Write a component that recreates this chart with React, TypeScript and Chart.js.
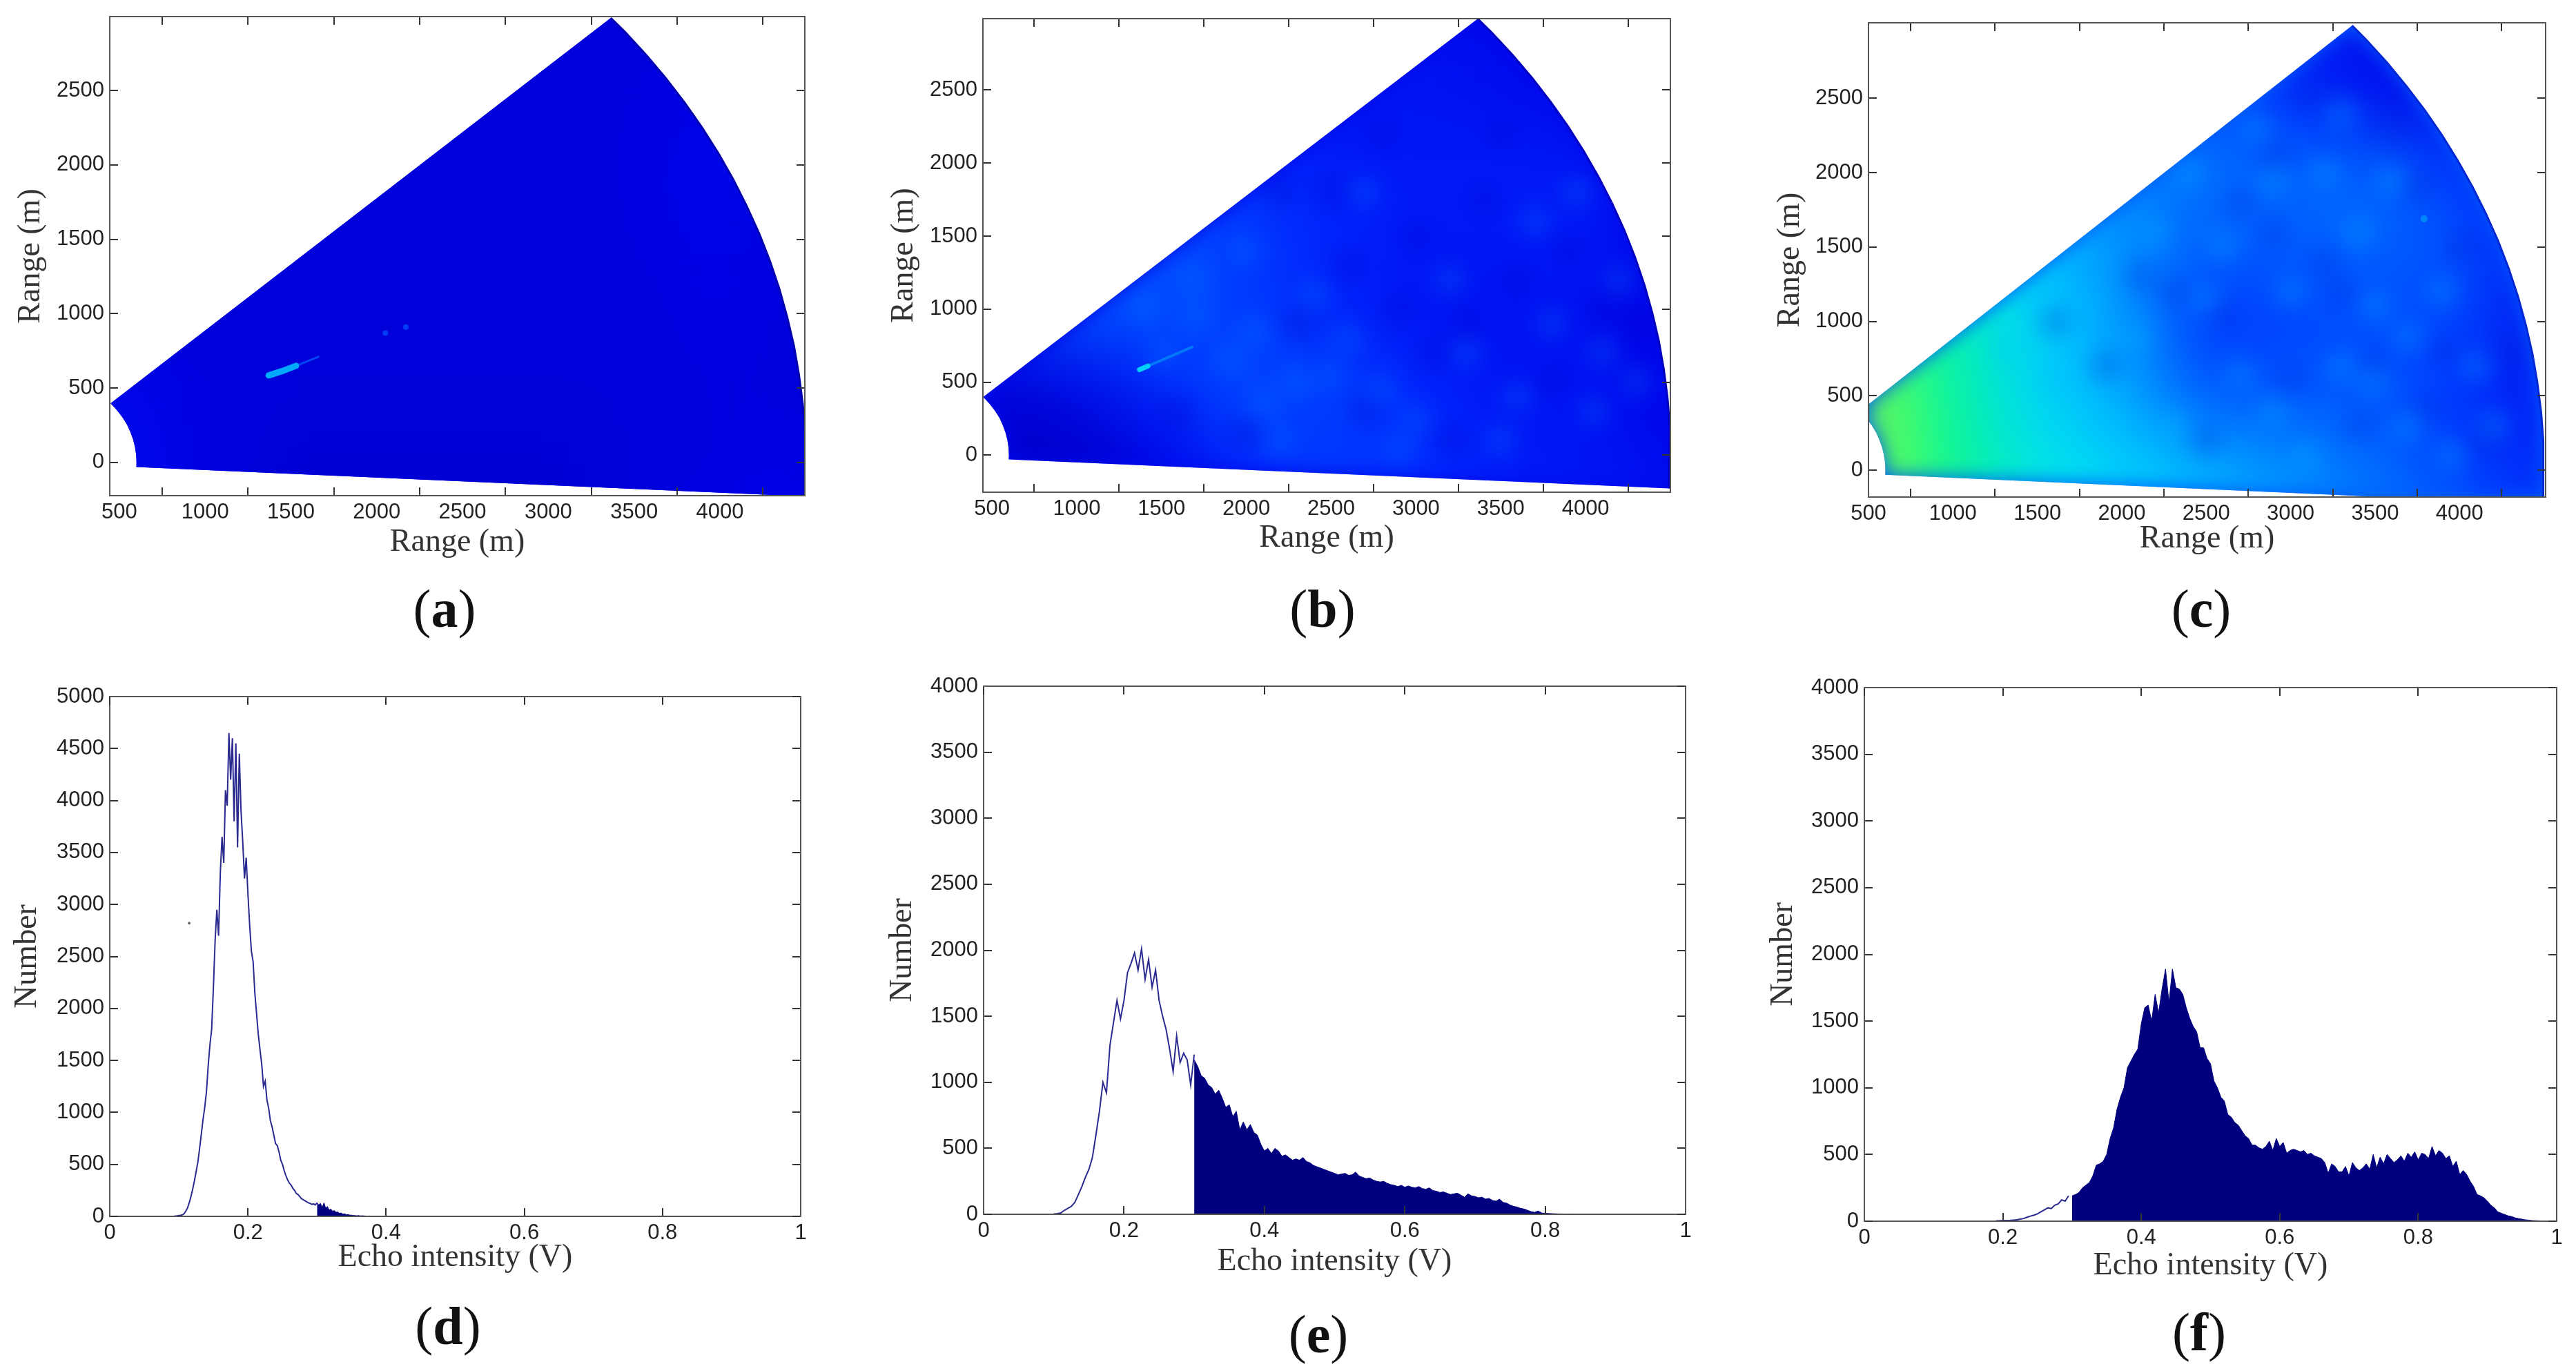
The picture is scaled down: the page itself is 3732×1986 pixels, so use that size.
import React, { useEffect, useRef } from "react";
import { Chart, registerables } from "chart.js";

Chart.register(...registerables);

// ---------- radar panels: sector outline and intensity grids ----------
const outerArcX = [4494, 4496, 4483, 4461, 4432, 4393, 4347, 4292, 4229, 4157, 4078, 3991, 3897, 3795, 3686, 3570, 3447, 3364];
const outerArcY = [-228, 196, 392, 587, 781, 974, 1165, 1353, 1539, 1722, 1902, 2078, 2250, 2418, 2581, 2740, 2893, 2988];
const innerArcX = [449, 487, 520, 545, 564, 580, 591, 598, 600, 599, 4494];
const innerArcY = [398, 350, 300, 254, 205, 155, 104, 52, 0, -30, -228];
const sectorX = [...outerArcX, ...innerArcX];
const sectorY = [...outerArcY, ...innerArcY];

const heatXs = [500, 1000, 1500, 2000, 2500, 3000, 3500, 4000, 4500];
const heatYs = [3000, 2500, 2000, 1500, 1000, 500, 0, -500];

const heatA = [
  [0.08, 0.08, 0.08, 0.08, 0.08, 0.08, 0.08, 0.08, 0.08],
  [0.08, 0.08, 0.08, 0.08, 0.08, 0.08, 0.09, 0.1, 0.09],
  [0.08, 0.08, 0.08, 0.08, 0.08, 0.08, 0.09, 0.12, 0.08],
  [0.08, 0.08, 0.08, 0.08, 0.08, 0.08, 0.09, 0.11, 0.08],
  [0.08, 0.08, 0.08, 0.08, 0.08, 0.08, 0.08, 0.1, 0.08],
  [0.12, 0.09, 0.08, 0.08, 0.08, 0.08, 0.08, 0.09, 0.08],
  [0.13, 0.09, 0.07, 0.07, 0.07, 0.07, 0.08, 0.09, 0.1],
  [0.13, 0.09, 0.07, 0.07, 0.07, 0.07, 0.08, 0.1, 0.11],
];

const heatB = [
  [0.14, 0.14, 0.14, 0.14, 0.14, 0.14, 0.12, 0.1, 0.09],
  [0.14, 0.14, 0.14, 0.14, 0.14, 0.15, 0.13, 0.11, 0.09],
  [0.14, 0.22, 0.23, 0.21, 0.17, 0.16, 0.17, 0.16, 0.1],
  [0.19, 0.26, 0.27, 0.23, 0.19, 0.16, 0.16, 0.17, 0.1],
  [0.24, 0.28, 0.26, 0.23, 0.18, 0.15, 0.14, 0.14, 0.09],
  [0.08, 0.12, 0.21, 0.26, 0.24, 0.19, 0.15, 0.15, 0.1],
  [0.05, 0.05, 0.11, 0.21, 0.23, 0.21, 0.17, 0.15, 0.13],
  [0.05, 0.05, 0.11, 0.19, 0.22, 0.21, 0.17, 0.16, 0.14],
];

const heatC = [
  [0.45, 0.4, 0.34, 0.27, 0.22, 0.14, 0.1, 0.08, 0.08],
  [0.45, 0.4, 0.34, 0.32, 0.28, 0.22, 0.15, 0.11, 0.09],
  [0.62, 0.56, 0.46, 0.36, 0.32, 0.3, 0.31, 0.23, 0.12],
  [0.68, 0.6, 0.47, 0.37, 0.29, 0.29, 0.3, 0.27, 0.15],
  [0.82, 0.66, 0.5, 0.39, 0.22, 0.24, 0.26, 0.25, 0.13],
  [0.9, 0.7, 0.51, 0.42, 0.28, 0.28, 0.28, 0.22, 0.14],
  [0.9, 0.72, 0.57, 0.51, 0.44, 0.37, 0.31, 0.25, 0.17],
  [0.9, 0.74, 0.6, 0.53, 0.47, 0.4, 0.35, 0.3, 0.2],
];

const streakAX = [1370, 1450, 1530];
const streakAY = [585, 615, 650];
const tailAX = [1530, 1660];
const tailAY = [650, 710];
const dotsAX = [2050, 2170];
const dotsAY = [870, 910];
const streakBX = [1370, 1420];
const streakBY = [585, 610];
const tailBX = [1420, 1680];
const tailBY = [610, 740];
const spotCX = [3790];
const spotCY = [1690];

const brightBX = [1400, 1700, 1900, 2100, 2300, 2500, 2800, 3000, 2000, 1700, 2400, 2600, 3300, 3700, 3950, 4200, 3600, 3800, 4050, 2200, 2900, 3200, 2700, 1500, 2050, 3500, 4100, 4300];
const brightBY = [1000, 950, 650, 350, 500, 550, 450, 250, 1400, 1200, 1100, 800, 700, 1600, 1800, 1200, 400, 900, 300, 100, 50, 1200, 1800, 700, 850, 100, 700, 500];
const darkBX = [2600, 2900, 3300, 3600, 3000, 3400, 2300, 2700, 3100, 3800, 4100, 1600, 2000, 2500, 3500, 3900, 2200, 4300, 3200, 2800];
const darkBY = [1300, 1000, 900, 1200, 1500, 1750, 900, 300, 700, 500, 1000, 300, 150, 1800, 2200, 1400, 1800, 900, 100, 2200];

const brightCX = [2100, 2900, 3200, 3600, 1800, 2200, 2600, 3400, 3900, 4100, 3300, 2900, 3700, 2300, 1600, 1300, 3000, 3500, 2800, 3300, 2400, 3700, 4200, 2500, 1900, 3100, 2000, 2700, 3950, 1500, 3500];
const brightCY = [900, 1950, 2000, 1950, 1100, 1600, 1500, 1600, 1200, 700, 700, 400, 300, 300, 600, 800, 1200, 1100, 2300, 2400, 2000, 900, 300, 1150, 300, 100, 50, 650, 100, 1100, 600];
const darkCX = [3200, 3900, 2700, 3300, 4000, 3500, 2300, 3000, 3600, 3100, 4300, 2900, 2100, 3800, 1900, 2500, 1600, 3400, 4150, 2600, 3750, 2900];
const darkCY = [1400, 800, 1800, 1200, 1500, 700, 1200, 600, 2300, 2500, 800, 1600, 1300, 400, 700, 200, 1000, 300, 200, 1050, 1900, 2100];

const radarXTicks = [500, 1000, 1500, 2000, 2500, 3000, 3500, 4000];
const radarYTicks = [0, 500, 1000, 1500, 2000, 2500];

// ---------- histogram panels ----------
const histXTicks = [0, 0.2, 0.4, 0.6, 0.8, 1];
const histDYTicks = [0, 500, 1000, 1500, 2000, 2500, 3000, 3500, 4000, 4500, 5000];
const histEYTicks = [0, 500, 1000, 1500, 2000, 2500, 3000, 3500, 4000];

// d: from 0.09 in steps of 0.0025
const histDLine = [
  0, 0, 3, 5, 8, 10, 15, 25, 50, 80, 130, 190,
  260, 340, 430, 520, 650, 790, 930, 1050, 1200, 1450, 1650, 1800,
  2200, 2650, 2950, 2700, 3300, 3650, 3400, 4100, 3950, 4650, 4200, 4600,
  3800, 4550, 3550, 4450, 3900, 3600, 3250, 3450, 3100, 2800, 2550, 2450,
  2150, 1950, 1750, 1600, 1460, 1250, 1300, 1120, 1040, 920, 860, 780,
  700, 680, 620, 540, 500, 440, 390, 350, 320, 300, 270, 250,
  220, 210, 190, 170, 160, 150, 140, 130, 125, 115, 120, 110, 130,
];
// d: from 0.30 in steps of 0.0025
const histDFill = [
  130, 110, 125, 85, 130, 80, 95, 60, 70, 50, 55, 40, 42, 30, 32, 22,
  25, 15, 18, 12, 12, 8, 8, 6, 8, 5, 6, 5, 4, 3, 4, 3, 3, 2, 2, 2,
];

// e: from 0.10 in steps of 0.005
const histELine = [
  2, 5, 10, 30, 45, 60, 90, 150, 210, 280, 340, 430, 600, 780, 1000, 920, 1280, 1450, 1620, 1480,
  1620, 1830, 1900, 1980, 1850, 2010, 1780, 1930, 1720, 1850, 1620, 1500, 1400, 1250, 1080, 1350, 1150, 1220, 1170, 980, 1210,
];
// e: from 0.30 in steps of 0.005
const histEFill = [
  1170, 1120, 1050, 1030, 980, 960, 910, 940, 880, 810, 830, 740, 780, 640, 700, 640, 680, 620, 600, 530,
  480, 500, 460, 500, 480, 440, 450, 430, 410, 420, 410, 430, 400, 390, 370, 360, 350, 340, 330, 320,
  310, 300, 305, 310, 295, 300, 320, 290, 280, 270, 275, 260, 250, 245, 250, 235, 225, 220, 210, 220,
  205, 215, 205, 200, 210, 195, 190, 200, 180, 175, 165, 170, 160, 150, 155, 160, 145, 130, 155, 140,
  135, 125, 130, 115, 120, 105, 100, 115, 90, 85, 70, 60, 55, 45, 40, 30, 20, 15, 25, 10,
  8, 6, 5, 4, 3, 3, 2, 3, 2, 2, 1, 2, 1, 1, 1, 2, 1, 1, 1, 1, 0,
];

// f: from 0.19 in steps of 0.005
const histFLine = [
  2, 4, 5, 5, 6, 8, 10, 15, 20, 30, 38, 45, 55, 70, 85, 100, 95, 120, 130, 160, 150, 190,
];
// f: from 0.30 in steps of 0.005
const histFFill = [
  190, 200, 215, 250, 270, 290, 340, 420, 430, 450, 500, 620, 700, 840, 930, 1000, 1150, 1200, 1250, 1290,
  1480, 1600, 1620, 1500, 1700, 1560, 1740, 1890, 1640, 1890, 1750, 1740, 1700, 1600, 1520, 1460, 1420, 1300, 1300, 1220,
  1180, 1050, 1000, 930, 900, 800, 780, 740, 720, 680, 640, 620, 570, 570, 550, 540, 560, 600, 530, 620,
  560, 590, 510, 530, 540, 530, 520, 530, 500, 510, 490, 480, 470, 440, 360, 430, 410, 370, 370, 410,
  340, 440, 400, 380, 400, 430, 390, 500, 400, 480, 430, 500, 470, 440, 460, 490, 450, 510, 480, 520,
  460, 510, 500, 470, 560, 490, 530, 510, 470, 490, 410, 450, 350, 380, 350, 300, 260, 200, 190, 175,
  150, 120, 100, 70, 60, 50, 40, 35, 25, 20, 15, 10, 8, 5, 4, 3, 2, 2, 1, 1, 0,
];
const strayDX = [0.115];
const strayDY = [2820];

// ---------- helpers ----------
const zip = (xs: number[], ys: number[]) => xs.map((x, i) => ({ x, y: ys[i] }));
const series = (start: number, step: number, ys: number[]) => ys.map((y, i) => ({ x: start + i * step, y }));

const jetStops: [number, number, number, number][] = [
  [0, 0, 0, 170], [0.1, 0, 0, 230], [0.2, 0, 40, 255], [0.3, 0, 100, 255], [0.4, 0, 160, 255],
  [0.5, 0, 210, 255], [0.6, 0, 240, 220], [0.7, 0, 245, 160], [0.8, 40, 255, 100], [1, 200, 255, 40],
];
const jet = (v: number) => {
  for (let i = 1; i < jetStops.length; i++) {
    const a = jetStops[i - 1], b = jetStops[i];
    if (v <= b[0]) {
      const t = (v - a[0]) / (b[0] - a[0]);
      return `rgb(${a[1] + (b[1] - a[1]) * t},${a[2] + (b[2] - a[2]) * t},${a[3] + (b[3] - a[3]) * t})`;
    }
  }
  return "rgb(200,255,40)";
};

type Box = { L: number; R: number; T: number; B: number; yTitle: number; xTitle: number; x: [number, number]; y: [number, number] };

const axisColor = "#555";
const scaleFor = (pos: string, min: number, max: number, vals: number[], main: boolean, title: string, gutter: number) => ({
  type: "linear",
  position: pos,
  min,
  max,
  offset: false,
  border: { display: true, color: axisColor, width: 2, z: 1 },
  grid: { drawOnChartArea: false, drawTicks: true, tickLength: -12, color: "#333", lineWidth: 2, z: 1 },
  ticks: {
    display: main,
    z: 1,
    autoSkip: false,
    maxRotation: 0,
    minRotation: 0,
    padding: pos === "bottom" ? 18 : 20,
    color: "#222",
    font: { family: "'Liberation Sans'", size: 31 },
    callback: (v: number) => String(v),
  },
  title: { display: main, text: title, color: "#333", padding: 0, font: { family: "'Liberation Serif'", size: 46 } },
  afterBuildTicks: (s: any) => {
    s.ticks = vals.map((value) => ({ value }));
  },
  afterFit: (s: any) => {
    if (pos === "left" || pos === "right") s.width = gutter;
    else s.height = gutter;
    s.paddingLeft = s.paddingRight = s.paddingTop = s.paddingBottom = 0;
  },
});

const buildScales = (b: Box, xt: number[], yt: number[], xTitle: string, yTitle: string) => ({
  x: scaleFor("bottom", b.x[0], b.x[1], xt, true, xTitle, b.xTitle + 28 - b.B),
  y: scaleFor("left", b.y[0], b.y[1], yt, true, yTitle, b.L - (b.yTitle - 28)),
  x2: scaleFor("top", b.x[0], b.x[1], xt, false, "", 0),
  y2: scaleFor("right", b.y[0], b.y[1], yt, false, "", 0),
});

const frameStyle = (b: Box): React.CSSProperties => ({
  position: "absolute",
  left: b.yTitle - 28,
  top: b.T - 20,
  width: b.R - (b.yTitle - 28) + 30,
  height: b.xTitle + 28 - (b.T - 20),
  filter: "blur(0.7px)",
});

// Softens what has been drawn so far, inside the sector only.
const softenPlugin = (blur: number, grainIndex: number, base: string) => ({
  id: "soften",
  afterDatasetDraw(chart: any, args: any) {
    if (args.index !== 0 && args.index !== grainIndex) return;
    const amount = args.index === 0 ? blur : 14;
    const { ctx, canvas, chartArea: a, scales } = chart;
    const off = document.createElement("canvas");
    off.width = canvas.width;
    off.height = canvas.height;
    off.getContext("2d")!.drawImage(canvas, 0, 0);
    ctx.save();
    ctx.clearRect(0, 0, canvas.width, canvas.height);
    ctx.beginPath();
    ctx.rect(a.left, a.top, a.right - a.left, a.bottom - a.top);
    ctx.clip();
    ctx.beginPath();
    sectorX.forEach((x, i) => {
      const px = scales.x.getPixelForValue(x);
      const py = scales.y.getPixelForValue(sectorY[i]);
      if (i === 0) ctx.moveTo(px, py);
      else ctx.lineTo(px, py);
    });
    ctx.closePath();
    ctx.clip();
    ctx.fillStyle = base;
    ctx.fillRect(0, 0, canvas.width, canvas.height);
    ctx.filter = `blur(${amount}px)`;
    ctx.drawImage(off, 0, 0);
    ctx.restore();
  },
});

type Mark = { xs: number[]; ys: number[]; color: string; width: number; dots?: boolean };
type Blotches = { xs: number[]; ys: number[]; color: string };

function Radar({ box, heat, edge, marks, base, blotches }: { box: Box; heat: number[][]; edge: string; marks: Mark[]; base: string; blotches: Blotches[] }) {
  const ref = useRef<HTMLCanvasElement>(null);
  useEffect(() => {
    const rows = heatYs.map((cy, r) => ({
      type: "bar",
      data: heatXs.map((x) => ({ x, y: [cy - 250, cy + 250] })),
      backgroundColor: heat[r].map(jet),
      borderWidth: 0,
      grouped: false,
      barPercentage: 1,
      categoryPercentage: 1,
      clip: false,
      order: 10,
      xAxisID: "x",
      yAxisID: "y",
    }));
    const spots = blotches.map((b) => ({
      type: "line",
      data: zip(b.xs, b.ys),
      showLine: false,
      pointRadius: 24,
      pointBorderWidth: 0,
      pointBackgroundColor: b.color,
      order: 5,
      xAxisID: "x",
      yAxisID: "y",
    }));
    const lines = marks.map((m) => ({
      type: "line",
      data: zip(m.xs, m.ys),
      borderColor: m.color,
      backgroundColor: m.color,
      borderWidth: m.dots ? 0 : m.width,
      borderCapStyle: "round",
      pointRadius: m.dots ? m.width : 0,
      pointBackgroundColor: m.color,
      showLine: !m.dots,
      order: 2,
      xAxisID: "x",
      yAxisID: "y",
    }));
    const outline = {
      type: "line",
      data: zip(outerArcX, outerArcY),
      borderColor: edge,
      borderWidth: 3,
      pointRadius: 0,
      fill: false,
      order: 1,
      xAxisID: "x",
      yAxisID: "y",
    };
    const chart = new Chart(ref.current!, {
      type: "bar",
      data: { datasets: [...rows, ...spots, ...lines, outline] as any },
      options: {
        animation: false,
        responsive: false,
        layout: { padding: { top: 20, right: 30, left: 0, bottom: 0 } },
        plugins: { legend: { display: false }, tooltip: { enabled: false }, title: { display: false } },
        scales: buildScales(box, radarXTicks, radarYTicks, "Range (m)", "Range (m)") as any,
      },
      plugins: [softenPlugin(55, blotches.length ? rows.length : -1, base)],
    });
    return () => chart.destroy();
  }, []);
  const st = frameStyle(box);
  return <canvas ref={ref} width={st.width as number} height={st.height as number} style={st} />;
}

function Hist({ box, yt, line, fill, stray }: { box: Box; yt: number[]; line: any[]; fill: any[]; stray?: any[] }) {
  const ref = useRef<HTMLCanvasElement>(null);
  useEffect(() => {
    const datasets: any[] = [
      { data: fill, borderColor: "#00007f", backgroundColor: "#00007f", borderWidth: 1, pointRadius: 0, fill: "origin", xAxisID: "x", yAxisID: "y" },
      { data: line, borderColor: "#2a2a90", borderWidth: 2, pointRadius: 0, fill: false, xAxisID: "x", yAxisID: "y" },
    ];
    if (stray) datasets.push({ data: stray, borderColor: "#666", backgroundColor: "#666", pointRadius: 1.5, showLine: false, xAxisID: "x", yAxisID: "y" });
    const chart = new Chart(ref.current!, {
      type: "line",
      data: { datasets },
      options: {
        animation: false,
        responsive: false,
        layout: { padding: { top: 20, right: 30, left: 0, bottom: 0 } },
        plugins: { legend: { display: false }, tooltip: { enabled: false }, title: { display: false } },
        scales: buildScales(box, histXTicks, yt, "Echo intensity (V)", "Number") as any,
      },
    });
    return () => chart.destroy();
  }, []);
  const st = frameStyle(box);
  return <canvas ref={ref} width={st.width as number} height={st.height as number} style={st} />;
}

const Panel = ({ letter, x, y }: { letter: string; x: number; y: number }) => (
  <div
    style={{
      position: "absolute",
      left: x,
      top: y,
      transform: "translate(-50%,-50%)",
      font: "78px/1 'Liberation Serif'",
      color: "#111",
      whiteSpace: "nowrap",
    }}
  >
    (<b>{letter}</b>)
  </div>
);

const boxA: Box = { L: 159, R: 1166, T: 24, B: 718, yTitle: 45, xTitle: 786, x: [444, 4495], y: [-223, 2997] };
const boxB: Box = { L: 1424, R: 2420, T: 23, B: 713, yTitle: 1310, xTitle: 780, x: [447, 4500], y: [-254, 2989] };
const boxC: Box = { L: 2707, R: 3688, T: 29, B: 720, yTitle: 2594, xTitle: 781, x: [500, 4510], y: [-180, 3007] };
const boxD: Box = { L: 159, R: 1160, T: 1009, B: 1762, yTitle: 40, xTitle: 1822, x: [0, 1], y: [0, 5000] };
const boxE: Box = { L: 1425, R: 2442, T: 994, B: 1759, yTitle: 1308, xTitle: 1828, x: [0, 1], y: [0, 4000] };
const boxF: Box = { L: 2701, R: 3704, T: 996, B: 1769, yTitle: 2584, xTitle: 1834, x: [0, 1], y: [0, 4000] };

export default function App() {
  return (
    <div style={{ position: "absolute", left: 0, top: 0, width: 3732, height: 1986, background: "#fff", overflow: "hidden" }}>
      <Radar
        box={boxA}
        heat={heatA}
        base="rgb(0,0,222)"
        edge="rgb(0,0,175)"
        blotches={[]}
        marks={[
          { xs: streakAX, ys: streakAY, color: "rgb(0,170,250)", width: 9 },
          { xs: tailAX, ys: tailAY, color: "rgb(0,70,245)", width: 3 },
          { xs: dotsAX, ys: dotsAY, color: "rgb(0,60,245)", width: 4, dots: true },
        ]}
      />
      <Radar
        box={boxB}
        heat={heatB}
        base="rgb(0,10,235)"
        edge="rgb(0,0,190)"
        blotches={[
          { xs: brightBX, ys: brightBY, color: "rgba(0,130,255,0.22)" },
          { xs: darkBX, ys: darkBY, color: "rgba(0,0,200,0.22)" },
        ]}
        marks={[
          { xs: streakBX, ys: streakBY, color: "rgb(0,210,250)", width: 7 },
          { xs: tailBX, ys: tailBY, color: "rgb(0,120,250)", width: 4 },
        ]}
      />
      <Radar
        box={boxC}
        heat={heatC}
        base="rgb(0,90,250)"
        edge="rgb(0,40,210)"
        blotches={[
          { xs: brightCX, ys: brightCY, color: "rgba(0,190,255,0.22)" },
          { xs: darkCX, ys: darkCY, color: "rgba(0,30,215,0.22)" },
        ]}
        marks={[{ xs: spotCX, ys: spotCY, color: "rgb(0,135,250)", width: 5, dots: true }]}
      />
      <Hist box={boxD} yt={histDYTicks} line={series(0.09, 0.0025, histDLine)} fill={series(0.3, 0.0025, histDFill)} stray={zip(strayDX, strayDY)} />
      <Hist box={boxE} yt={histEYTicks} line={series(0.1, 0.005, histELine)} fill={series(0.3, 0.005, histEFill)} />
      <Hist box={boxF} yt={histEYTicks} line={series(0.19, 0.005, histFLine)} fill={series(0.3, 0.005, histFFill)} />
      <Panel letter="a" x={644} y={882} />
      <Panel letter="b" x={1916} y={882} />
      <Panel letter="c" x={3189} y={882} />
      <Panel letter="d" x={649} y={1921} />
      <Panel letter="e" x={1910} y={1933} />
      <Panel letter="f" x={3186} y={1930} />
    </div>
  );
}
